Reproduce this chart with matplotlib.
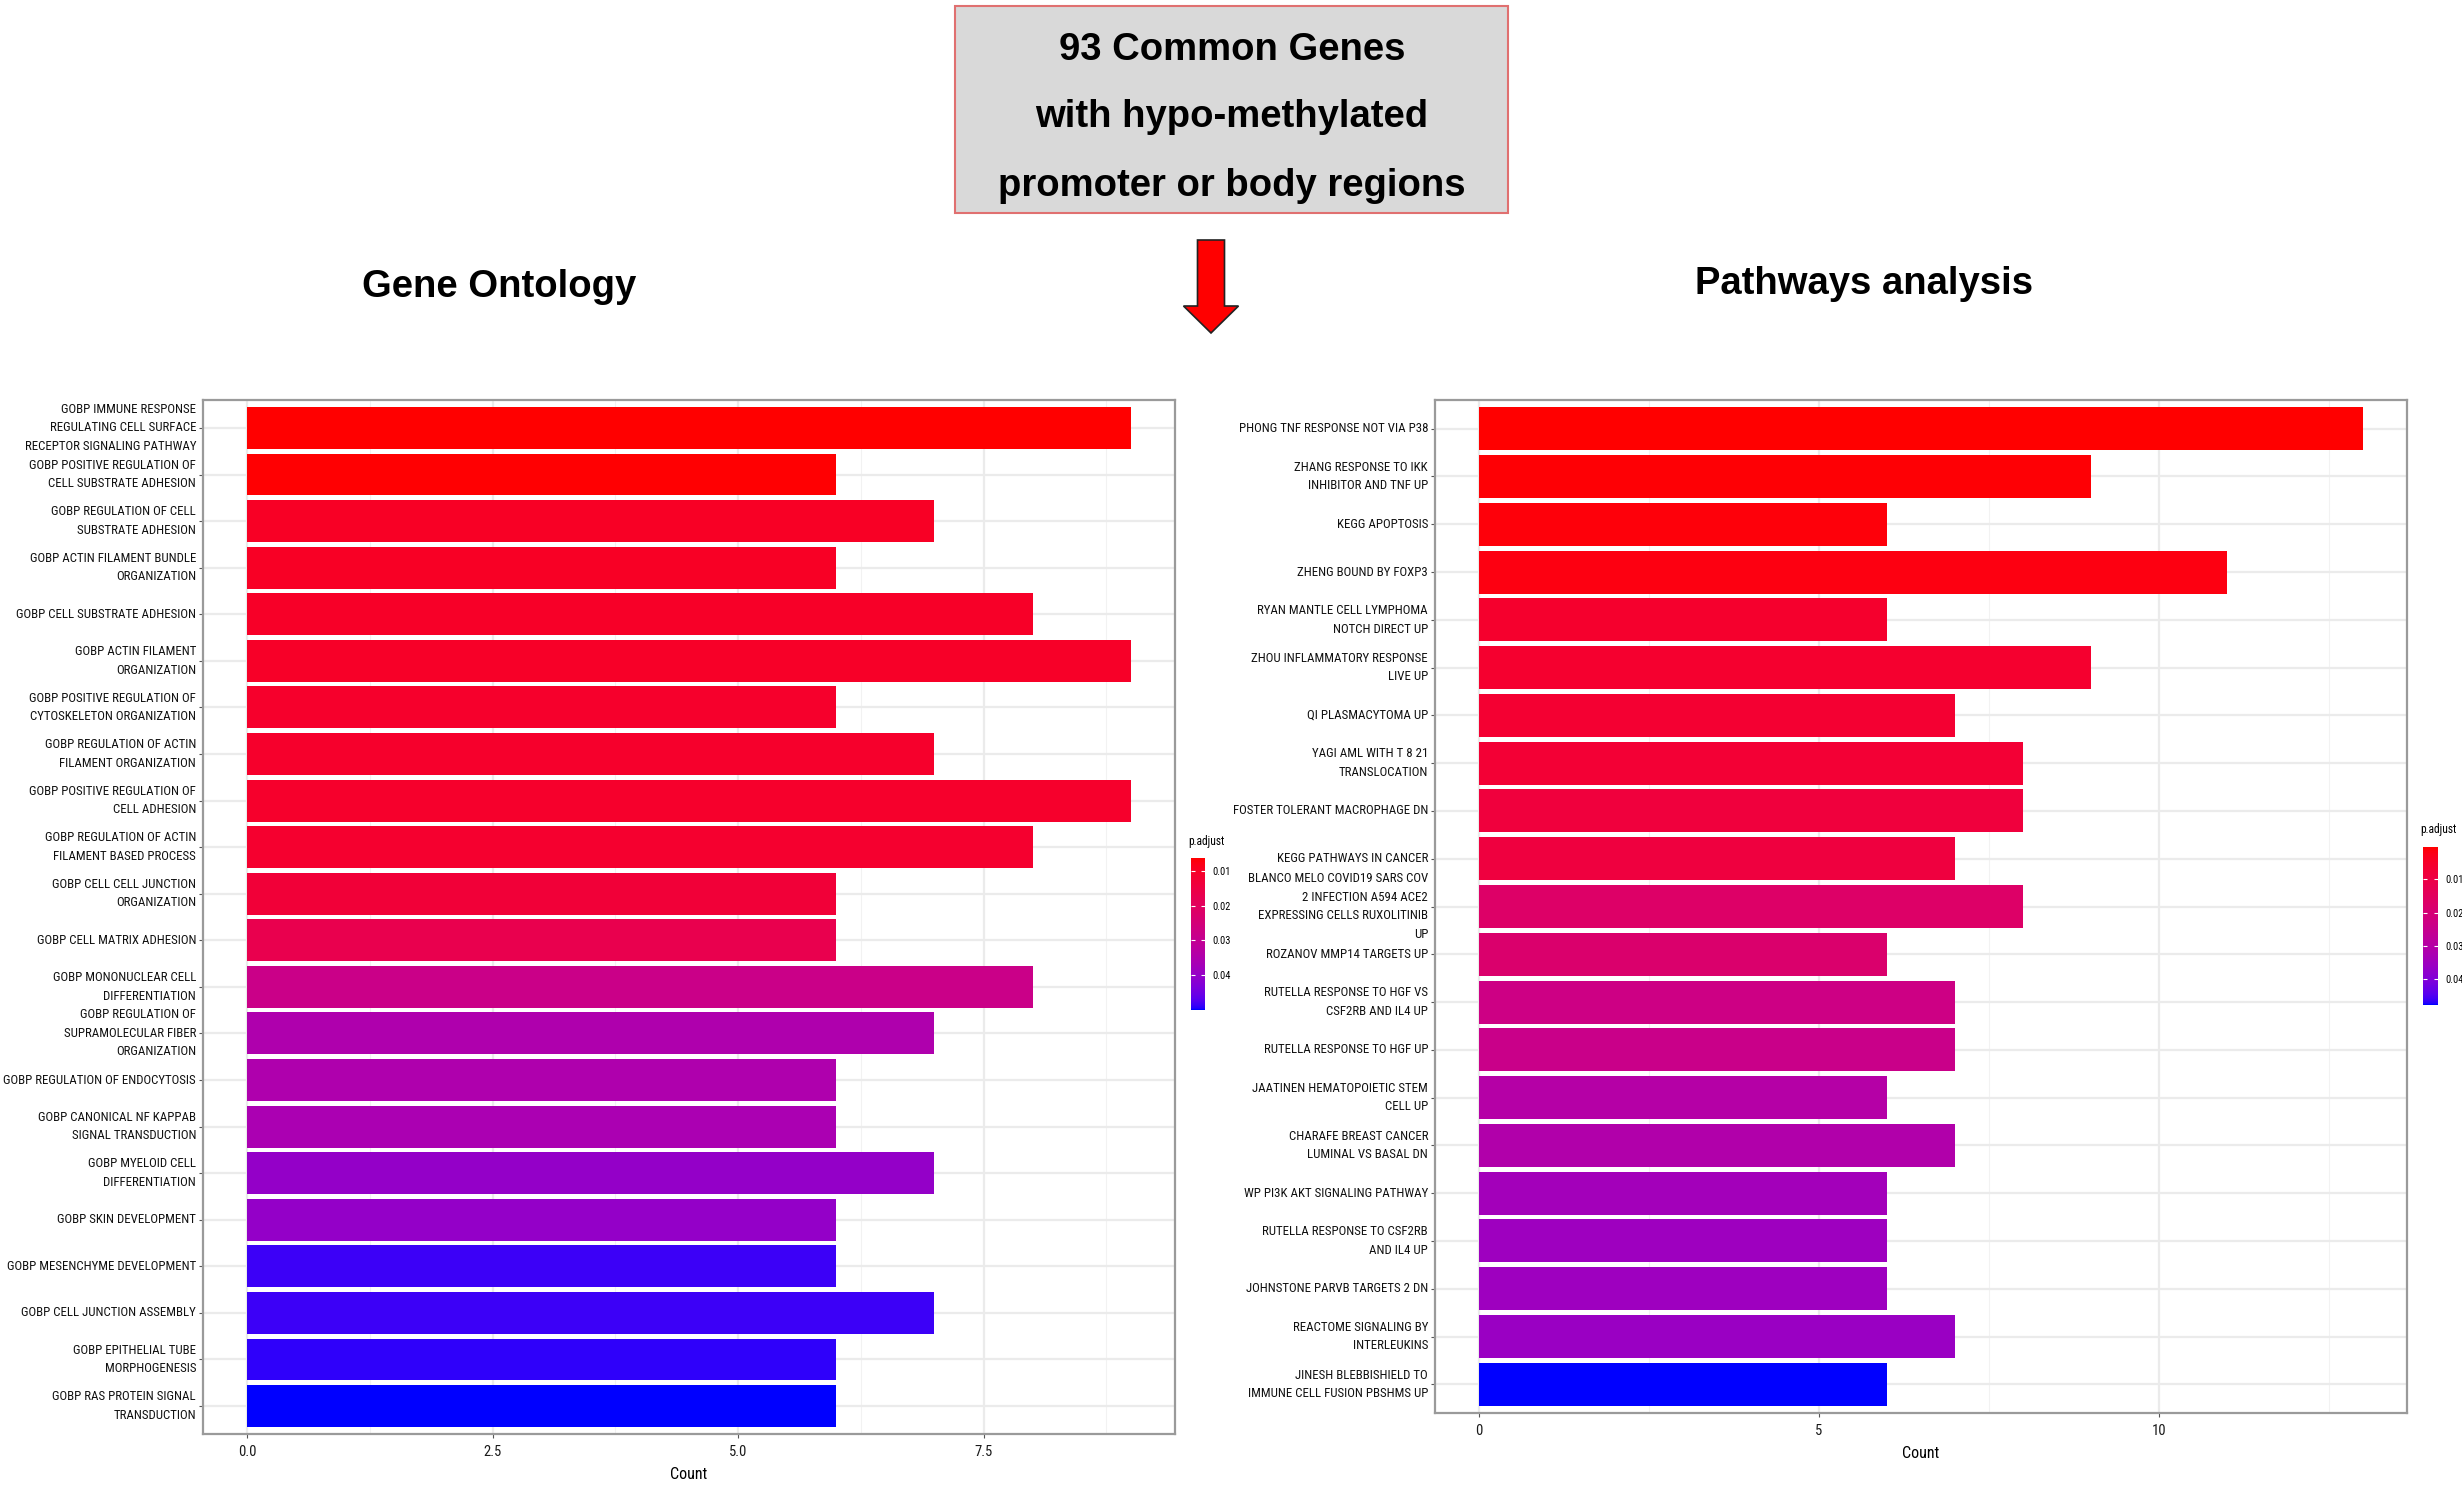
import numpy as np
import matplotlib
matplotlib.use("Agg")
import matplotlib.pyplot as plt
from matplotlib import font_manager
from matplotlib.colors import ListedColormap, Normalize
from matplotlib.cm import ScalarMappable
from matplotlib.patches import Rectangle, FancyArrow

# ---------------- data ----------------
go_terms = [
    "GOBP IMMUNE RESPONSE\nREGULATING CELL SURFACE\nRECEPTOR SIGNALING PATHWAY",
    "GOBP POSITIVE REGULATION OF\nCELL SUBSTRATE ADHESION",
    "GOBP REGULATION OF CELL\nSUBSTRATE ADHESION",
    "GOBP ACTIN FILAMENT BUNDLE\nORGANIZATION",
    "GOBP CELL SUBSTRATE ADHESION",
    "GOBP ACTIN FILAMENT\nORGANIZATION",
    "GOBP POSITIVE REGULATION OF\nCYTOSKELETON ORGANIZATION",
    "GOBP REGULATION OF ACTIN\nFILAMENT ORGANIZATION",
    "GOBP POSITIVE REGULATION OF\nCELL ADHESION",
    "GOBP REGULATION OF ACTIN\nFILAMENT BASED PROCESS",
    "GOBP CELL CELL JUNCTION\nORGANIZATION",
    "GOBP CELL MATRIX ADHESION",
    "GOBP MONONUCLEAR CELL\nDIFFERENTIATION",
    "GOBP REGULATION OF\nSUPRAMOLECULAR FIBER\nORGANIZATION",
    "GOBP REGULATION OF ENDOCYTOSIS",
    "GOBP CANONICAL NF KAPPAB\nSIGNAL TRANSDUCTION",
    "GOBP MYELOID CELL\nDIFFERENTIATION",
    "GOBP SKIN DEVELOPMENT",
    "GOBP MESENCHYME DEVELOPMENT",
    "GOBP CELL JUNCTION ASSEMBLY",
    "GOBP EPITHELIAL TUBE\nMORPHOGENESIS",
    "GOBP RAS PROTEIN SIGNAL\nTRANSDUCTION",
]
go_counts = [9, 6, 7, 6, 8, 9, 6, 7, 9, 8, 6, 6, 8, 7, 6, 6, 7, 6, 6, 7, 6, 6]
go_padj = [0.0063, 0.0066, 0.0100, 0.0100, 0.0105, 0.0105, 0.0110, 0.0110,
           0.0110, 0.0115, 0.0130, 0.0170, 0.0280, 0.0350, 0.0350, 0.0360,
           0.0400, 0.0400, 0.0485, 0.0485, 0.0490, 0.0500]

pw_terms = [
    "PHONG TNF RESPONSE NOT VIA P38",
    "ZHANG RESPONSE TO IKK\nINHIBITOR AND TNF UP",
    "KEGG APOPTOSIS",
    "ZHENG BOUND BY FOXP3",
    "RYAN MANTLE CELL LYMPHOMA\nNOTCH DIRECT UP",
    "ZHOU INFLAMMATORY RESPONSE\nLIVE UP",
    "QI PLASMACYTOMA UP",
    "YAGI AML WITH T 8 21\nTRANSLOCATION",
    "FOSTER TOLERANT MACROPHAGE DN",
    "KEGG PATHWAYS IN CANCER",
    "BLANCO MELO COVID19 SARS COV\n2 INFECTION A594 ACE2\nEXPRESSING CELLS RUXOLITINIB\nUP",
    "ROZANOV MMP14 TARGETS UP",
    "RUTELLA RESPONSE TO HGF VS\nCSF2RB AND IL4 UP",
    "RUTELLA RESPONSE TO HGF UP",
    "JAATINEN HEMATOPOIETIC STEM\nCELL UP",
    "CHARAFE BREAST CANCER\nLUMINAL VS BASAL DN",
    "WP PI3K AKT SIGNALING PATHWAY",
    "RUTELLA RESPONSE TO CSF2RB\nAND IL4 UP",
    "JOHNSTONE PARVB TARGETS 2 DN",
    "REACTOME SIGNALING BY\nINTERLEUKINS",
    "JINESH BLEBBISHIELD TO\nIMMUNE CELL FUSION PBSHMS UP",
]
pw_counts = [13, 9, 6, 11, 6, 9, 7, 8, 8, 7, 8, 6, 7, 7, 6, 7, 6, 6, 6, 7, 6]
pw_padj = [0.0003, 0.0008, 0.0012, 0.0016, 0.0055, 0.0060, 0.0065, 0.0070,
           0.0085, 0.0090, 0.0170, 0.0180, 0.0230, 0.0240, 0.0300, 0.0310,
           0.0340, 0.0350, 0.0350, 0.0360, 0.0477]

header_lines = ["93 Common Genes", "with hypo-methylated", "promoter or body regions"]
title_left = "Gene Ontology"
title_right = "Pathways analysis"
cbar_ticks = [0.01, 0.02, 0.03, 0.04]


# ---------------- fonts ----------------
def pick_font(cands):
    for c in cands:
        try:
            font_manager.findfont(c, fallback_to_default=False)
            return c
        except Exception:
            pass
    return "DejaVu Sans"

NARROW = pick_font(["Liberation Sans Narrow", "Arial Narrow", "DejaVu Sans Condensed",
                    "Roboto Condensed", "Liberation Sans"])
SANS = pick_font(["Liberation Sans", "Arial", "DejaVu Sans"])


# ---------------- red -> blue gradient interpolated in CIELAB ----------------
def _srgb_to_lab(rgb):
    rgb = np.asarray(rgb, float)
    lin = np.where(rgb <= 0.04045, rgb / 12.92, ((rgb + 0.055) / 1.055) ** 2.4)
    M = np.array([[0.4124564, 0.3575761, 0.1804375],
                  [0.2126729, 0.7151522, 0.0721750],
                  [0.0193339, 0.1191920, 0.9503041]])
    xyz = M @ lin
    white = np.array([0.95047, 1.0, 1.08883])
    t = xyz / white
    f = np.where(t > 216 / 24389, np.cbrt(t), (24389 / 27 * t + 16) / 116)
    return np.array([116 * f[1] - 16, 500 * (f[0] - f[1]), 200 * (f[1] - f[2])])


def _lab_to_srgb(lab):
    L, a, b = lab
    fy = (L + 16) / 116
    fx = fy + a / 500
    fz = fy - b / 200
    def finv(f):
        return np.where(f ** 3 > 216 / 24389, f ** 3, (116 * f - 16) / (24389 / 27))
    white = np.array([0.95047, 1.0, 1.08883])
    xyz = np.array([finv(fx), finv(fy), finv(fz)]) * white
    Minv = np.array([[3.2404542, -1.5371385, -0.4985314],
                     [-0.9692660, 1.8760108, 0.0415560],
                     [0.0556434, -0.2040259, 1.0572252]])
    lin = np.clip(Minv @ xyz, 0, 1)
    srgb = np.where(lin <= 0.0031308, 12.92 * lin, 1.055 * lin ** (1 / 2.4) - 0.055)
    return np.clip(srgb, 0, 1)


lab_r = _srgb_to_lab([1, 0, 0])
lab_b = _srgb_to_lab([0, 0, 1])
ramp = [_lab_to_srgb(lab_r + (lab_b - lab_r) * t) for t in np.linspace(0, 1, 256)]
cmap = ListedColormap(ramp)

# ---------------- figure ----------------
W, H = 2462, 1494
fig = plt.figure(figsize=(W / 100, H / 100), dpi=100)
fig.patch.set_facecolor("white")

# overlay axes in pixel coords for header / arrow / titles
ov = fig.add_axes([0, 0, 1, 1])
ov.set_xlim(0, W)
ov.set_ylim(H, 0)
ov.axis("off")
ov.add_patch(Rectangle((955, 6), 553, 207, facecolor="#D9D9D9",
                       edgecolor="#E07070", lw=1.5))
for yy, line in zip([50, 117, 186], header_lines):
    ov.text(1232, yy, line, ha="center", va="center", fontsize=27.5,
            fontweight="bold", family=SANS, color="black")
ov.add_patch(FancyArrow(1211, 240, 0, 93, width=27, head_width=55, head_length=27,
                        length_includes_head=True, facecolor="#FF0000",
                        edgecolor="#222222", lw=1.2))
ov.text(499, 287, title_left, ha="center", va="center", fontsize=27.5,
        fontweight="bold", family=SANS)
ov.text(1864, 284, title_right, ha="center", va="center", fontsize=27.5,
        fontweight="bold", family=SANS)


def px_rect(x0, y0, x1, y1):
    return [x0 / W, 1 - y1 / H, (x1 - x0) / W, (y1 - y0) / H]


def bar_panel(rect, terms, counts, padj, xmax_ticks, xminor, xlab_fmt,
              cbar_rect, cbar_title_xy):
    ax = fig.add_axes(rect)
    n = len(terms)
    ypos = np.arange(n)[::-1] + 1
    norm = Normalize(vmin=min(padj), vmax=max(padj))
    colors = cmap(norm(np.asarray(padj)))
    ax.barh(ypos, counts, height=0.9, color=colors, zorder=3)
    cmax = max(counts)
    ax.set_xlim(-0.05 * cmax, 1.05 * cmax)
    ax.set_ylim(0.4, n + 0.6)
    ax.set_yticks(ypos)
    ax.set_yticklabels(terms, family=NARROW, fontsize=9.3, linespacing=1.55,
                       va="center", ha="right", color="#111111")
    ax.set_xticks(xmax_ticks)
    ax.set_xticklabels([xlab_fmt(v) for v in xmax_ticks], family=NARROW,
                       fontsize=10.5, color="#1A1A1A")
    ax.set_xticks(xminor, minor=True)
    ax.grid(True, which="major", color="#EBEBEB", lw=1.6, zorder=0)
    ax.grid(True, which="minor", axis="x", color="#F2F2F2", lw=0.8, zorder=0)
    ax.tick_params(axis="both", which="major", length=3, width=0.8, color="#555555",
                   pad=2)
    ax.tick_params(axis="x", which="minor", length=0)
    ax.tick_params(axis="x", pad=5)
    for s in ax.spines.values():
        s.set_color("#9A9A9A")
        s.set_linewidth(1.6)
    ax.set_xlabel("Count", family=NARROW, fontsize=11.5, labelpad=6)

    cax = fig.add_axes(cbar_rect)
    sm = ScalarMappable(norm=norm, cmap=cmap)
    cb = fig.colorbar(sm, cax=cax)
    cb.outline.set_visible(False)
    cax.invert_yaxis()
    cb.set_ticks(cbar_ticks)
    cb.set_ticklabels([f"{v:.2f}" for v in cbar_ticks])
    cax.tick_params(axis="y", direction="in", length=3, width=0.8, color="white",
                    left=True, right=True, labelsize=7.5, pad=5)
    for t in cax.get_yticklabels():
        t.set_family(NARROW)
    ov.text(cbar_title_xy[0], cbar_title_xy[1], "p.adjust", ha="left", va="center",
            family=NARROW, fontsize=8.3)
    return ax


bar_panel(px_rect(203, 400, 1175, 1434), go_terms, go_counts, go_padj,
          [0.0, 2.5, 5.0, 7.5], [1.25, 3.75, 6.25, 8.75],
          lambda v: f"{v:.1f}",
          px_rect(1191, 858, 1205, 1010), (1188, 841))

bar_panel(px_rect(1435, 400, 2407, 1413), pw_terms, pw_counts, pw_padj,
          [0, 5, 10], [2.5, 7.5, 12.5],
          lambda v: f"{v:d}",
          px_rect(2423, 847, 2438, 1005), (2420, 829))

fig.savefig("out.png", dpi=100, facecolor="white")
